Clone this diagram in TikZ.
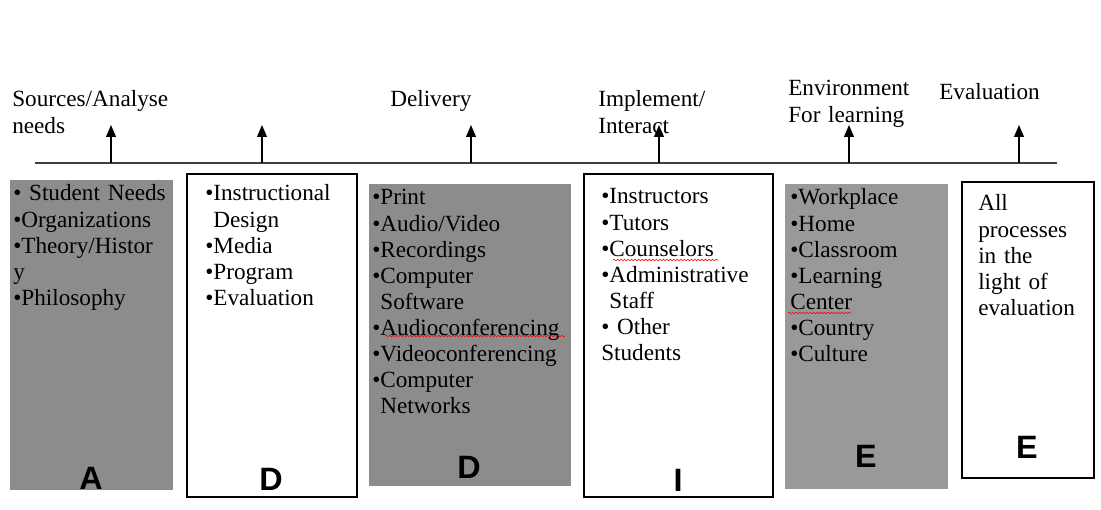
\documentclass[tikz,border=0pt]{standalone}
\usepackage{fontspec}
\setmainfont{Liberation Serif}
\newfontfamily\lettersans{Liberation Sans}
\usepackage{tikz}
\usetikzlibrary{arrows.meta,decorations.pathmorphing}
\definecolor{boxgray}{HTML}{8C8C8C}
\definecolor{boxgraylight}{HTML}{999999}
\newcommand{\bl}{\textbullet}
\newcommand{\ind}{\hphantom{\textbullet}}

\begin{document}
\begin{tikzpicture}[x=0.025cm, y=-0.025cm,
  txt/.style={font=\fontsize{16.5}{18.5}\selectfont, inner sep=0pt, anchor=base west, text width=6cm, align=left},
  letterlbl/.style={font=\lettersans\bfseries\fontsize{23}{23}\selectfont, inner sep=0pt},
  graybox/.style={fill=boxgray},
  whitebox/.style={draw=black, line width=1pt},
  up/.style={-{Triangle[length=8.5pt,width=7pt]}, line width=1pt, draw=black},
  spell/.style={red, line width=0.4pt, decorate, decoration={snake, amplitude=0.6pt, segment length=2.5pt}}]
\useasboundingbox (0,0) rectangle (1101,510);

% time line with the arrows
\coordinate (lineL) at (35,163);
\coordinate (lineR) at (1057,163);
\draw[line width=1pt, black!75] (lineL) -- (lineR);
\foreach \x [count=\i] in {111,262,471,659,849,1019} {
  \coordinate (s\i) at (\x,163);
  \coordinate (t\i) at (\x,125);
  \draw[up] (s\i) -- (t\i);
}

% headings
\node[txt] (src) at (12,107) {Sources/Analyse\\needs};
\node[txt] (dlv) at (390,107) {Delivery};
\node[txt] (imp) at (598,107) {Implement/\\Interact};
\node[txt] (env) at (788,96) {Environment\\For learning};
\node[txt] (evl) at (939,100) {Evaluation};

% boxes
\fill[boxgray] (10,180) rectangle (173,490);
\draw[whitebox] (187,174) rectangle (357,497);
\fill[boxgray] (369,184) rectangle (571,486);
\draw[whitebox] (584,174) rectangle (773,497);
\fill[boxgraylight] (785,184) rectangle (948,489);
\draw[whitebox] (962,182) rectangle (1094,478);

% box texts
\node[txt] (listA) at (13,201) {\bl\ Student Needs\\\bl Organizations\\\bl Theory/Histor\\y\\\bl Philosophy};
\node[txt] (listD) at (205,201) {\bl Instructional\\\ind Design\\\bl Media\\\bl Program\\\bl Evaluation};
\node[txt] (listDD) at (372,205) {\bl Print\\\bl Audio/Video\\\bl Recordings\\\bl Computer\\\ind Software\\\bl Audioconferencing\\\bl Videoconferencing\\\bl Computer\\\ind Networks};
\node[txt] (listI) at (601,204) {\bl Instructors\\\bl Tutors\\\bl Counselors\\\bl Administrative\\\ind Staff\\\bl\ Other\\Students};
\node[txt] (listE) at (790,205) {\bl Workplace\\\bl Home\\\bl Classroom\\\bl Learning\\Center\\\bl Country\\\bl Culture};
\node[txt] (listEE) at (978,211) {All\\processes\\in the\\light of\\evaluation};

% spelling marks
\draw[spell] (385,336) -- (565,336);
\draw[spell] (613,260) -- (718,260);
\draw[spell] (788,313) -- (851,313);

% letters
\node[letterlbl] (lA) at (91,478) {A};
\node[letterlbl] (lD) at (271,479) {D};
\node[letterlbl] (lDD) at (469,467) {D};
\node[letterlbl] (lI) at (678,480) {I};
\node[letterlbl] (lE) at (866,456) {E};
\node[letterlbl] (lEE) at (1027,447) {E};
\end{tikzpicture}
\end{document}
